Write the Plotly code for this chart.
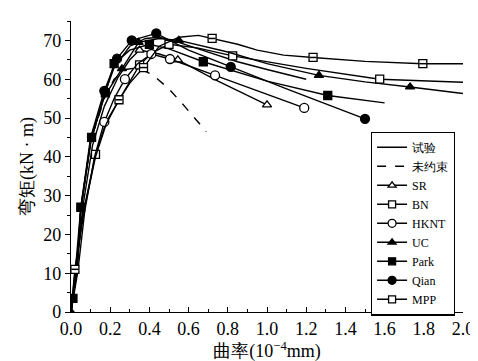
import plotly.graph_objects as go

# ---------------- data ----------------
test_x = [0, 0.01, 0.03, 0.05, 0.10, 0.17, 0.22, 0.30, 0.38, 0.45, 0.55, 0.70, 0.85, 1.00, 1.20]
test_y = [0, 3.5, 11, 26, 44, 56, 63, 68.5, 70.5, 70.8, 69.5, 67, 64.5, 62.5, 60]

unc_x = [0, 0.01, 0.03, 0.05, 0.10, 0.17, 0.22, 0.28, 0.34, 0.42, 0.50, 0.58, 0.69]
unc_y = [0, 3.5, 11, 26.5, 44, 55, 60, 62.5, 63, 61, 57.5, 53, 46.5]

sr_x = [0, 0.01, 0.03, 0.06, 0.11, 0.17, 0.24, 0.30, 0.35, 0.45, 0.545, 0.75, 1.00]
sr_y = [0, 3.5, 11, 27, 43, 53, 60.5, 65, 67.5, 66.5, 65, 59.5, 53.4]
sr_mx = [0.35, 0.545, 1.00]
sr_my = [67.5, 65, 53.4]

bn_x = [0, 0.02, 0.06, 0.125, 0.18, 0.245, 0.30, 0.35, 0.42, 0.50, 0.65, 0.825, 1.20, 1.575, 2.00]
bn_y = [0, 10, 25, 40.6, 49, 54.7, 59.5, 63.7, 67, 69, 68, 66, 62.8, 60, 59.2]
bn_mx = [0.125, 0.35, 0.50, 0.825, 1.575]
bn_my = [40.6, 63.7, 69, 66, 60]

hk_x = [0, 0.01, 0.035, 0.07, 0.12, 0.17, 0.22, 0.275, 0.34, 0.41, 0.505, 0.735, 1.19]
hk_y = [0, 3, 10.5, 26, 40, 49, 55, 60, 64, 66.5, 65.2, 61, 52.6]
hk_mx = [0.17, 0.275, 0.41, 0.505, 0.735, 1.19]
hk_my = [49, 60, 66.5, 65.2, 61, 52.6]

uc_x = [0, 0.01, 0.03, 0.05, 0.10, 0.17, 0.26, 0.345, 0.45, 0.55, 0.80, 1.00, 1.265, 1.50, 1.73, 2.00]
uc_y = [0, 3.5, 11, 26.5, 44, 55.5, 62.7, 69.5, 70.5, 70, 67, 64, 61, 59.3, 58, 56.3]
uc_mx = [0, 0.26, 0.345, 0.55, 1.265, 1.73]
uc_my = [0, 62.7, 69.5, 70, 61, 58]

pk_x = [0, 0.01, 0.05, 0.105, 0.175, 0.22, 0.30, 0.40, 0.50, 0.675, 1.00, 1.31, 1.60]
pk_y = [0, 3.5, 27, 45, 56.5, 64, 67.5, 69, 67.8, 64.5, 59.5, 55.8, 53.9]
pk_mx = [0.01, 0.05, 0.105, 0.175, 0.22, 0.40, 0.675, 1.31]
pk_my = [3.5, 27, 45, 56.5, 64, 69, 64.5, 55.8]

qi_x = [0, 0.01, 0.03, 0.05, 0.10, 0.17, 0.235, 0.31, 0.435, 0.60, 0.815, 1.10, 1.50]
qi_y = [0, 3.5, 11, 27, 45, 57, 65.3, 70, 71.8, 67.5, 63.2, 57.5, 49.8]
qi_mx = [0.17, 0.235, 0.31, 0.435, 0.815, 1.50]
qi_my = [57, 65.3, 70, 71.8, 63.2, 49.8]

mpp_x = [0, 0.02, 0.07, 0.125, 0.18, 0.245, 0.30, 0.37, 0.45, 0.55, 0.65, 0.72, 0.85, 0.95, 1.085, 1.235, 1.50, 1.795, 2.00]
mpp_y = [0, 11, 27, 40, 48.5, 54.7, 59, 63, 68.5, 70.8, 71.3, 70.5, 69, 67.5, 66.2, 65.6, 64.6, 64, 64]
mpp_mx = [0.02, 0.245, 0.37, 0.72, 1.235, 1.795]
mpp_my = [11, 54.7, 63, 70.5, 65.6, 64]

x_ticks = [0, 0.2, 0.4, 0.6, 0.8, 1.0, 1.2, 1.4, 1.6, 1.8, 2.0]
x_tick_text = ["0.0", "0.2", "0.4", "0.6", "0.8", "1.0", "1.2", "1.4", "1.6", "1.8", "2.0"]
y_ticks = [0, 10, 20, 30, 40, 50, 60, 70]

FONT = "Liberation Serif"
LW = 1.4

fig = go.Figure()

def series(name, x, y, mx=None, my=None, symbol=None, fill="black", size=8, dash="solid"):
    fig.add_trace(go.Scatter(x=x, y=y, mode="lines", line=dict(color="black", width=LW, dash=dash),
                             showlegend=False, hoverinfo="skip"))
    if mx is not None:
        fig.add_trace(go.Scatter(x=mx, y=my, mode="markers",
                                 marker=dict(symbol=symbol, size=size, color=fill,
                                             line=dict(color="black", width=1.3)),
                                 showlegend=False, hoverinfo="skip"))
    # legend entry
    if symbol is None:
        fig.add_trace(go.Scatter(x=[None], y=[None], mode="lines", name=name,
                                 line=dict(color="black", width=LW, dash=dash)))
    else:
        fig.add_trace(go.Scatter(x=[None], y=[None], mode="lines+markers", name=name,
                                 line=dict(color="black", width=LW),
                                 marker=dict(symbol=symbol, size=size - 1, color=fill,
                                             line=dict(color="black", width=1.3))))

series("试验", test_x, test_y)
series("未约束", unc_x, unc_y, dash="dash")
series("SR", sr_x, sr_y, sr_mx, sr_my, "triangle-up", "white", 8)
series("BN", bn_x, bn_y, bn_mx, bn_my, "square", "white", 8)
series("HKNT", hk_x, hk_y, hk_mx, hk_my, "circle", "white", 9)
series("UC", uc_x, uc_y, uc_mx, uc_my, "triangle-up", "black", 8)
series("Park", pk_x, pk_y, pk_mx, pk_my, "square", "black", 8)
series("Qian", qi_x, qi_y, qi_mx, qi_my, "circle", "black", 9)
series("MPP", mpp_x, mpp_y, mpp_mx, mpp_my, "square", "white", 8)
# inner bar of MPP markers
fig.add_trace(go.Scatter(x=mpp_mx, y=mpp_my, mode="markers",
                         marker=dict(symbol="line-ew", size=5, color="black",
                                     line=dict(color="black", width=1.5)),
                         showlegend=False, hoverinfo="skip"))

fig.update_layout(
    width=478, height=361,
    margin=dict(l=63, r=15, t=13, b=50),
    paper_bgcolor="white", plot_bgcolor="white",
    font=dict(family=FONT, size=18, color="black"),
    showlegend=True,
    legend=dict(x=0.765, y=0.62, xanchor="left", yanchor="top",
                bordercolor="black", borderwidth=1.2, bgcolor="white",
                font=dict(family=FONT, size=12, color="black"),
                itemwidth=30, tracegroupgap=0),
    xaxis=dict(range=[0, 2.0], tickvals=x_ticks, ticktext=x_tick_text,
               ticks="inside", ticklen=5, tickwidth=1.2, tickcolor="black",
               minor=dict(ticks="inside", ticklen=3, dtick=0.1, tickcolor="black", tickwidth=1),
               showline=True, linecolor="black", linewidth=1.4, showgrid=False, zeroline=False,
               title=dict(text="曲率(10<sup>−4</sup>mm)", font=dict(family=FONT, size=18), standoff=6),
               tickfont=dict(family=FONT, size=18)),
    yaxis=dict(range=[0, 75], tickvals=y_ticks,
               ticks="outside", ticklen=5, tickwidth=1.2, tickcolor="black",
               minor=dict(ticks="outside", ticklen=3, dtick=5, tickcolor="black", tickwidth=1),
               showline=True, linecolor="black", linewidth=1.4, showgrid=False, zeroline=False,
               title=dict(text="弯矩(kN · m)", font=dict(family=FONT, size=18), standoff=4),
               tickfont=dict(family=FONT, size=18)),
)

fig.write_html("out.html")
